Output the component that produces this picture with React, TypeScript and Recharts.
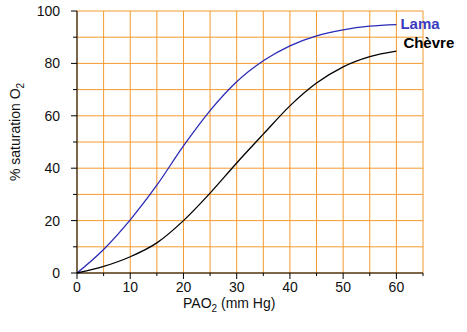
import React from "react";
import { LineChart, Line, XAxis, YAxis, CartesianGrid, Label } from "recharts";

// Courbes de dissociation de l'oxyhémoglobine : lama vs chèvre
const PAO2 = [0, 5, 10, 15, 20, 25, 30, 35, 40, 45, 50, 55, 60];
const LAMA = [0, 9, 20.3, 33.5, 48.5, 62, 73, 81, 86.7, 90.5, 92.8, 94.2, 94.8];
const CHEVRE = [0, 2.5, 6.2, 11.5, 20, 30.5, 42, 53, 63.8, 72.5, 78.7, 82.6, 84.7];
const X_TICKS = [0, 5, 10, 15, 20, 25, 30, 35, 40, 45, 50, 55, 60, 65];
const Y_TICKS = [0, 10, 20, 30, 40, 50, 60, 70, 80, 90, 100];

const data = PAO2.map((p, i) => ({ p, lama: LAMA[i], chevre: CHEVRE[i] }));

const FONT = "'Liberation Sans', Arial, sans-serif";
const GRID = "#f39a2e";
const BLUE = "#2a2ab8";
const LAST = PAO2.length - 1;

function XTick({ x, y, payload }: any) {
  const major = payload.value % 10 === 0;
  return (
    <g>
      <line x1={x} x2={x} y1={y} y2={y + (major ? 6 : 3)} stroke="#000" />
      {major && payload.value <= 60 ? (
        <text x={x} y={y + 19} textAnchor="middle" fontSize={14} fontFamily={FONT} fill="#111">
          {payload.value}
        </text>
      ) : null}
    </g>
  );
}

function YTick({ x, y, payload }: any) {
  const major = payload.value % 20 === 0;
  return (
    <g>
      <line x1={x - (major ? 6 : 4)} x2={x} y1={y} y2={y} stroke="#000" />
      {major ? (
        <text x={x - 17} y={y + 5} textAnchor="end" fontSize={14} fontFamily={FONT} fill="#111">
          {payload.value}
        </text>
      ) : null}
    </g>
  );
}

function endLabel(text: string, color: string, dx: number, dy: number) {
  return (props: any) => {
    if (props.index !== LAST) return <g />;
    return (
      <text
        x={props.x + dx}
        y={props.y + dy}
        fontSize={15}
        fontWeight="bold"
        fontFamily={FONT}
        fill={color}
      >
        {text}
      </text>
    );
  };
}

export default function App() {
  return (
    <div style={{ position: "absolute", left: 0, top: 0, background: "#fff" }}>
      <LineChart width={467} height={332} data={data} margin={{ top: 11, right: 44, bottom: 29, left: 17 }}>
        <CartesianGrid stroke={GRID} strokeWidth={1} />
        <XAxis
          dataKey="p"
          type="number"
          domain={[0, 65]}
          ticks={X_TICKS}
          interval={0}
          height={30}
          tickSize={0}
          tickMargin={0}
          tick={<XTick />}
          axisLine={{ stroke: "#000" }}
        >
          <Label
            content={() => (
              <text x={183} y={308} fontSize={14} fontFamily={FONT} fill="#111">
                PAO
                <tspan fontSize={10} dy={4}>2</tspan>
                <tspan dy={-4}> (mm Hg)</tspan>
              </text>
            )}
          />
        </XAxis>
        <YAxis
          type="number"
          domain={[0, 100]}
          ticks={Y_TICKS}
          interval={0}
          width={60}
          tickSize={0}
          tickMargin={0}
          tick={<YTick />}
          axisLine={{ stroke: "#000" }}
        >
          <Label
            content={() => (
              <text
                transform="translate(20,132) rotate(-90)"
                textAnchor="middle"
                fontSize={14}
                fontFamily={FONT}
                fill="#111"
              >
                % saturation O
                <tspan fontSize={10} dy={4}>2</tspan>
              </text>
            )}
          />
        </YAxis>
        <Line
          type="monotone"
          dataKey="lama"
          stroke={BLUE}
          strokeWidth={1.3}
          dot={false}
          isAnimationActive={false}
          label={endLabel("Lama", "#3a3ac0", 4, 4)}
        />
        <Line
          type="monotone"
          dataKey="chevre"
          stroke="#000"
          strokeWidth={1.3}
          dot={false}
          isAnimationActive={false}
          label={endLabel("Chèvre", "#000", 7, -3)}
        />
      </LineChart>
    </div>
  );
}
